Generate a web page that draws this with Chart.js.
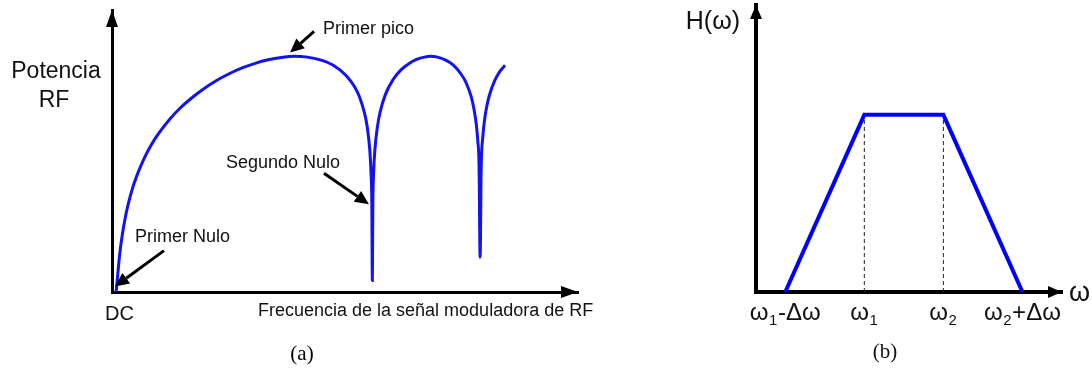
<!DOCTYPE html>
<html lang="es">
<head>
    <meta charset="UTF-8">
    <title>Potencia RF y filtro H(ω)</title>
    <script src="https://cdn.jsdelivr.net/npm/chart.js@4.4.1/dist/chart.umd.min.js"></script>
    <style>
        body {
            margin: 0;
            background: #fff;
            width: 1092px;
            height: 374px;
            position: relative;
            overflow: hidden;
        }
        canvas {
            position: absolute;
            top: 0;
        }
        #potencia { left: 0; }
        #filtro { left: 600px; }
    </style>
</head>
<body>
    <canvas id="potencia" width="594" height="374"></canvas>
    <canvas id="filtro" width="492" height="374"></canvas>

    <script>
        // (a) potencia RF (dB relativos) frente a la frecuencia moduladora normalizada
        const freq = [0.016, 0.02, 0.03, 0.04, 0.05, 0.06, 0.08, 0.10, 0.12, 0.15, 0.18, 0.22, 0.26, 0.30,
            0.35, 0.40, 0.45, 0.50, 0.55, 0.60, 0.65, 0.70, 0.75, 0.80, 0.85, 0.90, 0.93, 0.95, 0.97,
            0.98, 0.99, 0.995, 0.998, 1.0, 1.002, 1.005, 1.01, 1.02, 1.03, 1.05, 1.08, 1.11, 1.14, 1.17,
            1.20, 1.225, 1.25, 1.28, 1.31, 1.34, 1.36, 1.38, 1.39, 1.40, 1.405, 1.41, 1.414, 1.418,
            1.425, 1.43, 1.44, 1.45, 1.47, 1.49, 1.51];
        const potencia = [-61, -58, -51, -46, -42.1, -38.9, -33.9, -30.1, -26.9, -23, -19.9, -16.4, -13.5, -11.1,
            -8.5, -6.3, -4.5, -3, -1.8, -0.9, -0.3, 0, -0.2, -0.9, -2.3, -5, -7.7, -10.4, -14.7,
            -18.1, -24.1, -30.1, -38, -58, -38, -30, -24, -18, -14.4, -9.9, -6, -3.5, -1.9, -0.8,
            -0.2, 0, -0.2, -0.9, -2.2, -4.5, -6.8, -10.5, -13.5, -18, -21.8, -28.5, -52, -29.4,
            -20.4, -17, -12.8, -10, -6.3, -3.9, -2.3];

        // notas con flecha: punta en coordenadas de datos, texto desplazado en píxeles
        const notasTexto = ['Primer pico', 'Segundo Nulo', 'Primer Nulo'];
        const notasPunta = [[0.684, 1], [0.987, -38.3], [0.0115, -59.6]];

        // (b) respuesta trapezoidal del filtro
        const omegaPos = [1, 2, 3, 4];
        const omegaEtiquetas = [['ω', '1', '-Δω'], ['ω', '1', ''], ['ω', '2', ''], ['ω', '2', '+Δω']];
        const filtroH = [0, 1, 1, 0];

        const SANS = '"Liberation Sans", Arial, sans-serif';
        const SERIF = '"Liberation Serif", "Times New Roman", serif';

        function flecha(ctx, x0, y0, x1, y1, largo, medio, grosor) {
            const ang = Math.atan2(y1 - y0, x1 - x0);
            const bx = x1 - Math.cos(ang) * largo;
            const by = y1 - Math.sin(ang) * largo;
            if (grosor) {
                ctx.lineWidth = grosor;
                ctx.beginPath();
                ctx.moveTo(x0, y0);
                ctx.lineTo(bx, by);
                ctx.stroke();
            }
            ctx.beginPath();
            ctx.moveTo(x1, y1);
            ctx.lineTo(bx - Math.sin(ang) * medio, by + Math.cos(ang) * medio);
            ctx.lineTo(bx + Math.sin(ang) * medio, by - Math.cos(ang) * medio);
            ctx.closePath();
            ctx.fill();
        }

        // puntas de flecha al final de los ejes
        const ejesConFlecha = {
            id: 'ejesConFlecha',
            afterDraw(chart, args, opts) {
                const { ctx, chartArea: a } = chart;
                ctx.save();
                ctx.fillStyle = '#000';
                flecha(ctx, a.left, a.top + 40, a.left, a.top, opts.largo, opts.medio, 0);
                flecha(ctx, a.right - 40, a.bottom, a.right, a.bottom, opts.largo, opts.medio, 0);
                ctx.restore();
            }
        };

        // textos del panel (a)
        const textosPotencia = {
            id: 'textosPotencia',
            afterDraw(chart) {
                const { ctx } = chart;
                const xs = chart.scales.x, ys = chart.scales.y;
                ctx.save();
                ctx.fillStyle = '#111';
                ctx.textBaseline = 'middle';

                ctx.font = '23px ' + SANS;
                ctx.textAlign = 'center';
                ctx.fillText('Potencia', 56, 72);
                ctx.fillText('RF', 54, 101);

                ctx.font = '20px ' + SANS;
                ctx.textAlign = 'left';
                ctx.fillText('DC', 105, 314);

                ctx.font = '18px ' + SANS;
                ctx.fillText('Frecuencia de la señal moduladora de RF', 258, 311);

                const desp = [[24, -21], [-45, -31], [49, -36]];
                const pos = [[323, 29], [226, 163], [135, 237]];
                ctx.strokeStyle = '#000';
                ctx.fillStyle = '#000';
                notasTexto.forEach((t, i) => {
                    const hx = xs.getPixelForValue(notasPunta[i][0]);
                    const hy = ys.getPixelForValue(notasPunta[i][1]);
                    flecha(ctx, hx + desp[i][0], hy + desp[i][1], hx, hy, 14, 6.5, 3);
                    ctx.fillStyle = '#111';
                    ctx.fillText(t, pos[i][0], pos[i][1]);
                    ctx.fillStyle = '#000';
                });

                ctx.font = '21px ' + SERIF;
                ctx.textAlign = 'center';
                ctx.fillText('(a)', 302, 354);
                ctx.restore();
            }
        };

        // etiquetas con subíndice del panel (b)
        function etiquetaSub(ctx, partes, cx, cy, size) {
            const grande = size + 'px ' + SANS;
            const chico = Math.round(size * 0.64) + 'px ' + SANS;
            ctx.font = grande;
            const w1 = ctx.measureText(partes[0]).width;
            const w3 = partes[2] ? ctx.measureText(partes[2]).width : 0;
            ctx.font = chico;
            const w2 = ctx.measureText(partes[1]).width + 1;
            let x = cx - (w1 + w2 + w3) / 2;
            ctx.textAlign = 'left';
            ctx.font = grande;
            ctx.fillText(partes[0], x, cy);
            x += w1;
            ctx.font = chico;
            ctx.fillText(partes[1], x + 0.5, cy + 8);
            x += w2;
            if (partes[2]) {
                ctx.font = grande;
                ctx.fillText(partes[2], x, cy);
            }
        }

        const textosFiltro = {
            id: 'textosFiltro',
            afterDraw(chart) {
                const { ctx } = chart;
                const xs = chart.scales.x;
                ctx.save();
                ctx.fillStyle = '#111';
                ctx.textBaseline = 'middle';
                omegaPos.forEach((v, i) => {
                    etiquetaSub(ctx, omegaEtiquetas[i], xs.getPixelForValue(v), 313, 24);
                });
                ctx.font = '25px ' + SANS;
                ctx.textAlign = 'right';
                ctx.fillText('H(ω)', 140, 22);
                ctx.textAlign = 'left';
                ctx.font = '27px ' + SANS;
                ctx.fillText('ω', 469, 294);
                ctx.font = '21px ' + SERIF;
                ctx.textAlign = 'center';
                ctx.fillText('(b)', 285, 352);
                ctx.restore();
            }
        };

        function escala(min, max, grosor) {
            return {
                type: 'linear',
                min: min,
                max: max,
                grid: { display: false, drawTicks: false },
                ticks: { display: false },
                border: { display: true, color: '#000', width: grosor }
            };
        }

        new Chart(document.getElementById('potencia'), {
            type: 'line',
            data: {
                datasets: [{
                    data: freq.map((f, i) => ({ x: f, y: potencia[i] })),
                    borderColor: '#1212f2',
                    borderWidth: 3,
                    pointRadius: 0,
                    cubicInterpolationMode: 'monotone',
                    fill: false
                }]
            },
            options: {
                responsive: false,
                animation: false,
                events: [],
                layout: { padding: { left: 112, right: 16, top: 10, bottom: 82 } },
                plugins: {
                    legend: { display: false },
                    tooltip: { enabled: false },
                    ejesConFlecha: { largo: 17, medio: 6 }
                },
                scales: {
                    x: escala(0, 1.79, 3),
                    y: escala(-61, 12, 3)
                }
            },
            plugins: [ejesConFlecha, textosPotencia]
        });

        new Chart(document.getElementById('filtro'), {
            type: 'line',
            data: {
                datasets: [{
                    data: omegaPos.map((w, i) => ({ x: w, y: filtroH[i] })),
                    borderColor: '#0000ff',
                    borderWidth: 4,
                    pointRadius: 0,
                    tension: 0,
                    fill: false
                }, {
                    data: [{ x: omegaPos[1], y: 0 }, { x: omegaPos[1], y: filtroH[1] }],
                    borderColor: '#222',
                    borderWidth: 1,
                    borderDash: [4, 3],
                    pointRadius: 0
                }, {
                    data: [{ x: omegaPos[2], y: 0 }, { x: omegaPos[2], y: filtroH[2] }],
                    borderColor: '#222',
                    borderWidth: 1,
                    borderDash: [4, 3],
                    pointRadius: 0
                }]
            },
            options: {
                responsive: false,
                animation: false,
                events: [],
                layout: { padding: { left: 156, right: 30, top: 5, bottom: 82 } },
                plugins: {
                    legend: { display: false },
                    tooltip: { enabled: false },
                    ejesConFlecha: { largo: 14, medio: 6 }
                },
                scales: {
                    x: escala(0.63, 4.5, 4),
                    y: escala(0, 1.62, 4)
                }
            },
            plugins: [ejesConFlecha, textosFiltro]
        });
    </script>
</body>
</html>
